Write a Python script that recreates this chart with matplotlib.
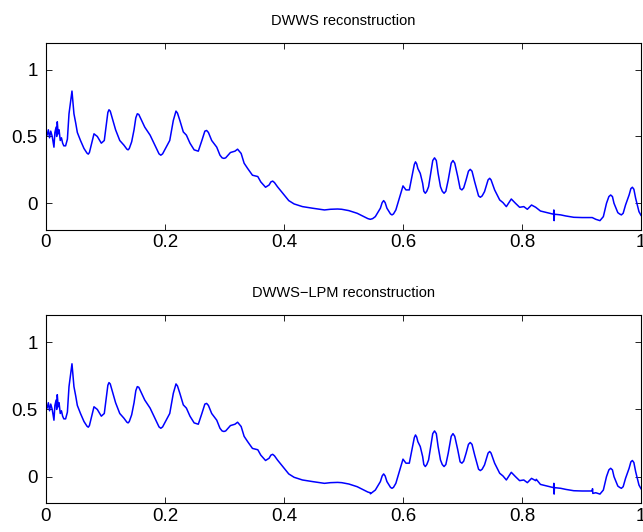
import matplotlib
matplotlib.use("Agg")
import matplotlib.pyplot as plt

plt.rcParams['font.family'] = ['Liberation Sans', 'DejaVu Sans']

# reconstructed signal, sampled at its turning points
t = [0.000, 0.002, 0.004, 0.006, 0.008, 0.0105, 0.0134, 0.015, 0.017, 0.018,
     0.019, 0.0205, 0.022, 0.024, 0.026, 0.028, 0.030, 0.033, 0.036, 0.0387,
     0.0437, 0.047, 0.050, 0.0527, 0.058, 0.0639, 0.069, 0.0711, 0.073, 0.0807,
     0.0863, 0.093, 0.098, 0.104, 0.1059, 0.108, 0.117, 0.124, 0.131, 0.136,
     0.138, 0.140, 0.144, 0.148, 0.151, 0.1535, 0.156, 0.166, 0.175, 0.183,
     0.190, 0.193, 0.196, 0.208, 0.214, 0.2185, 0.221, 0.225, 0.2308, 0.236,
     0.242, 0.249, 0.256, 0.262, 0.267, 0.270, 0.273, 0.2785, 0.287, 0.2924,
     0.296, 0.299, 0.302, 0.310, 0.3176, 0.322, 0.328, 0.333, 0.339, 0.347,
     0.356, 0.361, 0.369, 0.375, 0.378, 0.381, 0.384, 0.389, 0.398, 0.408,
     0.417, 0.431, 0.448, 0.468, 0.478, 0.490, 0.497, 0.509, 0.523, 0.534,
     0.541, 0.545, 0.549, 0.5535, 0.562, 0.565, 0.5675, 0.570, 0.573, 0.579,
     0.5815, 0.584, 0.588, 0.5955, 0.600, 0.605, 0.6106, 0.615, 0.619, 0.621,
     0.623, 0.625, 0.629, 0.633, 0.635, 0.6375, 0.640, 0.643, 0.6476, 0.650,
     0.653, 0.656, 0.659, 0.663, 0.666, 0.669, 0.672, 0.676, 0.681, 0.684,
     0.687, 0.692, 0.696, 0.699, 0.702, 0.706, 0.710, 0.713, 0.716, 0.7205,
     0.727, 0.730, 0.733, 0.737, 0.743, 0.7457, 0.748, 0.754, 0.7625, 0.768,
     0.7737, 0.782, 0.789, 0.796, 0.803, 0.809, 0.816, 0.823, 0.831, 0.842,
     0.853, 0.8535, 0.854, 0.8545, 0.865, 0.8735, 0.887, 0.901, 0.918, 0.924,
     0.931, 0.9367, 0.942, 0.946, 0.949, 0.952, 0.9546, 0.961, 0.964, 0.967,
     0.970, 0.974, 0.980, 0.983, 0.9855, 0.988, 0.991, 0.9966, 1.000]

dwws = [0.534, 0.51, 0.55, 0.49, 0.54, 0.50, 0.42, 0.53, 0.57, 0.50,
        0.61, 0.52, 0.55, 0.47, 0.49, 0.45, 0.43, 0.43, 0.48, 0.67,
        0.84, 0.67, 0.60, 0.53, 0.47, 0.41, 0.375, 0.368, 0.38, 0.52,
        0.50, 0.45, 0.47, 0.68, 0.70, 0.69, 0.55, 0.47, 0.435, 0.405,
        0.40, 0.41, 0.46, 0.55, 0.64, 0.67, 0.665, 0.57, 0.51, 0.435,
        0.37, 0.36, 0.37, 0.47, 0.62, 0.69, 0.675, 0.62, 0.534, 0.51,
        0.45, 0.40, 0.39, 0.47, 0.54, 0.545, 0.53, 0.47, 0.42, 0.36,
        0.34, 0.336, 0.34, 0.38, 0.39, 0.405, 0.373, 0.30, 0.26, 0.21,
        0.20, 0.16, 0.12, 0.137, 0.16, 0.166, 0.155, 0.124, 0.075, 0.02,
        -0.005, -0.025, -0.037, -0.05, -0.045, -0.043, -0.045, -0.055, -0.075, -0.10,
        -0.115, -0.12, -0.115, -0.10, -0.037, 0.005, 0.02, 0.005, -0.037, -0.08,
        -0.087, -0.08, -0.05, 0.062, 0.13, 0.10, 0.10, 0.20, 0.29, 0.31,
        0.295, 0.26, 0.224, 0.15, 0.09, 0.075, 0.09, 0.124, 0.25, 0.32,
        0.34, 0.32, 0.224, 0.124, 0.09, 0.075, 0.09, 0.174, 0.30, 0.32,
        0.30, 0.20, 0.11, 0.10, 0.115, 0.174, 0.24, 0.254, 0.24, 0.16,
        0.055, 0.045, 0.055, 0.087, 0.175, 0.187, 0.175, 0.10, 0.025, 0.005,
        -0.025, 0.032, 0.0, -0.03, -0.025, -0.045, -0.013, -0.03, -0.058, -0.07,
        -0.082, -0.05, -0.13, -0.082, -0.087, -0.095, -0.105, -0.107, -0.107, -0.12,
        -0.13, -0.10, 0.0, 0.05, 0.062, 0.05, 0.0, -0.07, -0.08, -0.087,
        -0.075, -0.013, 0.062, 0.11, 0.12, 0.105, 0.037, -0.063, -0.09]

# the LPM variant follows the same curve, with a few short glitches
lpm_glitch_t = [0.5452, 0.824, 0.9185, 0.919]
lpm_glitch_y = [-0.128, -0.02, -0.09, -0.125]

dwws_lpm = sorted(list(zip(t, dwws)) + list(zip(lpm_glitch_t, lpm_glitch_y)))
t_lpm = [p[0] for p in dwws_lpm]
y_lpm = [p[1] for p in dwws_lpm]

xticks = [0, 0.2, 0.4, 0.6, 0.8, 1]
xticklabels = ['0', '0.2', '0.4', '0.6', '0.8', '1']
yticks = [0, 0.5, 1]
yticklabels = ['0', '0.5', '1']

fig = plt.figure(figsize=(6.43, 5.32), dpi=100)
ax1 = fig.add_axes([0.0715, 0.5677, 0.9254, 0.3515])
ax2 = fig.add_axes([0.0715, 0.0536, 0.9254, 0.3535])

panels = [(ax1, t, dwws, 'DWWS reconstruction'),
          (ax2, t_lpm, y_lpm, 'DWWS\u2212LPM reconstruction')]

for ax, x, y, title in panels:
    ax.plot(x, y, color='#0000ff', linewidth=1.1, solid_joinstyle='round')
    ax.set_xlim(0, 1)
    ax.set_ylim(-0.2, 1.2)
    ax.set_xticks(xticks)
    ax.set_xticklabels(xticklabels)
    ax.set_yticks(yticks)
    ax.set_yticklabels(yticklabels)
    ax.tick_params(direction='in', length=4, width=0.6, top=True, right=True,
                   labelsize=13.5)
    ax.tick_params(axis='x', pad=3)
    ax.tick_params(axis='y', pad=6)
    for s in ax.spines.values():
        s.set_linewidth(0.8)
    ax.set_title(title, fontsize=10.5, pad=13)

fig.savefig('out.png', dpi=100)
